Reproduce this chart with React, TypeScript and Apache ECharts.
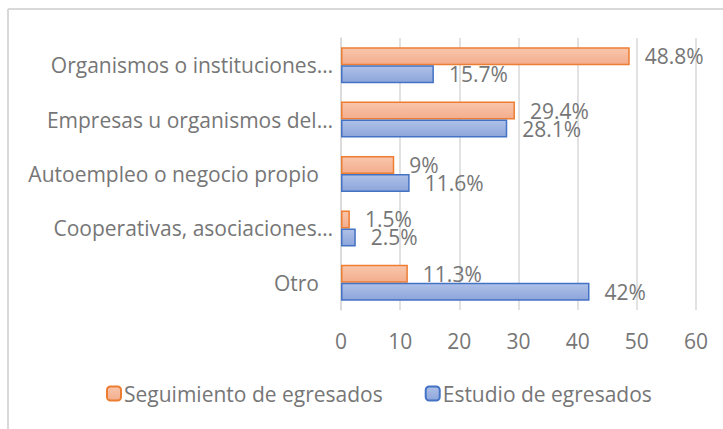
import React, { useEffect, useRef } from "react";
import * as echarts from "echarts";

const categories = [
  "Organismos o instituciones…",
  "Empresas u organismos del…",
  "Autoempleo o negocio propio",
  "Cooperativas, asociaciones…",
  "Otro",
];
const seguimiento = [48.8, 29.4, 9, 1.5, 11.3];
const estudio = [15.7, 28.1, 11.6, 2.5, 42];
const seriesNames = ["Seguimiento de egresados", "Estudio de egresados"];
const xTicks = { min: 0, max: 60, interval: 10 };

const FONT = "'Open Sans', 'Noto Sans', sans-serif";
const GREY = "#767676";
const FS = 21;

export default function App() {
  const ref = useRef<HTMLDivElement>(null);
  useEffect(() => {
    if (!ref.current) return;
    const chart = echarts.init(ref.current, undefined, { renderer: "svg" });
    const orangeFill = new echarts.graphic.LinearGradient(0, 0, 0, 1, [
      { offset: 0, color: "#F9C6AC" },
      { offset: 1, color: "#F3AD8D" },
    ]);
    const blueFill = new echarts.graphic.LinearGradient(0, 0, 0, 1, [
      { offset: 0, color: "#AFC1E8" },
      { offset: 1, color: "#8DA5DA" },
    ]);
    const label = {
      show: true,
      position: "right",
      distance: 15,
      color: GREY,
      fontSize: FS,
      fontFamily: FONT,
      formatter: (p: any) => `${p.value}%`,
    };
    chart.setOption({
      animation: false,
      textStyle: { fontFamily: FONT },
      graphic: [
        { type: "line", shape: { x1: 8, y1: 9, x2: 723, y2: 9 }, style: { stroke: "#d9d9d9", lineWidth: 2 } },
        { type: "line", shape: { x1: 8, y1: 9, x2: 8, y2: 429 }, style: { stroke: "#d9d9d9", lineWidth: 2 } },
      ],
      grid: { left: 341, right: 27, top: 38, bottom: 119, containLabel: false },
      legend: {
        left: 106,
        top: 383,
        padding: 0,
        itemWidth: 14,
        itemHeight: 14,
        itemGap: 42,
        textStyle: { color: GREY, fontSize: FS, fontFamily: FONT, padding: [0, 0, 0, -2] },
        data: seriesNames,
      },
      xAxis: {
        type: "value",
        min: xTicks.min,
        max: xTicks.max,
        interval: xTicks.interval,
        axisLine: { show: false },
        axisTick: { show: false },
        splitLine: { show: true, lineStyle: { color: "#d9d9d9", width: 1.5 } },
        axisLabel: { color: GREY, fontSize: FS, fontFamily: FONT, margin: 20 },
      },
      yAxis: {
        type: "category",
        inverse: true,
        data: categories,
        axisLine: { show: true, lineStyle: { color: "#d9d9d9", width: 1.5 } },
        axisTick: { show: false },
        axisLabel: {
          margin: 8,
          formatter: (v: string) => (v.endsWith("…") ? `{a|${v}}` : `{b|${v}}`),
          rich: {
            a: { color: GREY, fontSize: FS, fontFamily: FONT },
            b: { color: GREY, fontSize: FS, fontFamily: FONT, padding: [0, 14, 0, 0] },
          },
        },
      },
      series: [
        {
          name: seriesNames[0],
          type: "bar",
          data: seguimiento,
          barWidth: 18,
          barGap: "0%",
          itemStyle: { color: orangeFill, borderColor: "#ED7D31", borderWidth: 1.5 },
          label,
        },
        {
          name: seriesNames[1],
          type: "bar",
          data: estudio,
          barWidth: 18,
          barGap: "0%",
          itemStyle: { color: blueFill, borderColor: "#4472C4", borderWidth: 1.5 },
          label,
        },
      ],
    });
    return () => chart.dispose();
  }, []);
  return (
    <div
      ref={ref}
      style={{ position: "absolute", left: 0, top: 0, width: 723, height: 429, background: "#fff" }}
    />
  );
}
